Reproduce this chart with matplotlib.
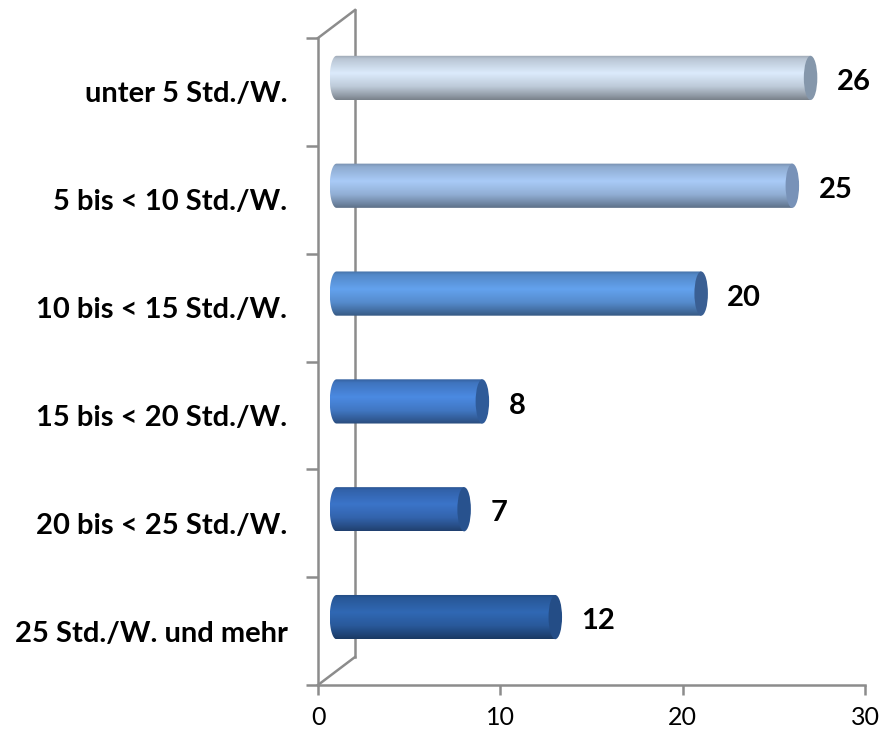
import numpy as np
import matplotlib as mpl
mpl.use('Agg')
import matplotlib.pyplot as plt
from matplotlib.patches import Ellipse, PathPatch
from matplotlib.path import Path
from matplotlib.transforms import ScaledTranslation
from matplotlib.colors import to_rgb

categories = ['unter 5 Std./W.', '5 bis < 10 Std./W.', '10 bis < 15 Std./W.',
              '15 bis < 20 Std./W.', '20 bis < 25 Std./W.', '25 Std./W. und mehr']
values = [26, 25, 20, 8, 7, 12]
xticks = [0, 10, 20, 30]

# bar body highlight colours and end-cap colours, top to bottom
body_colors = ['#dcebfc', '#a9cbf7', '#63a2ee', '#4b8ae2', '#3b74c9', '#3068b4']
cap_colors = ['#8597ab', '#7892b8', '#3a5f93', '#2f5b99', '#28528e', '#244d86']

plt.rcParams['font.family'] = ['Lato', 'DejaVu Sans']
GRAY = '#8c8c8c'

fig = plt.figure(figsize=(8.81, 7.35), dpi=100)
ax = fig.add_axes([318 / 881, 50 / 735, 547 / 881, 647 / 735])
ax.set_xlim(0, 30)
ax.set_ylim(len(categories), 0)

for side in ['top', 'right']:
    ax.spines[side].set_visible(False)
for side in ['left', 'bottom']:
    ax.spines[side].set_color(GRAY)
    ax.spines[side].set_linewidth(1.8)

ax.set_xticks(xticks)
ax.set_xticklabels([str(t) for t in xticks], fontsize=18)
ax.tick_params(axis='x', length=7, width=1.8, color=GRAY, pad=8)
ax.set_yticks(range(len(categories) + 1))
ax.set_yticklabels([])
ax.tick_params(axis='y', which='major', length=9, width=1.8, color=GRAY)
centers = np.arange(len(categories)) + 0.5
ax.set_yticks(centers, minor=True)
ax.set_yticklabels(categories, minor=True, fontsize=21, fontweight='bold')
ax.tick_params(axis='y', which='minor', length=0, pad=22)

# 3D depth: back wall and bars at half depth
back = ax.transData + ScaledTranslation(0.37, 0.28, fig.dpi_scale_trans)
mid = ax.transData + ScaledTranslation(0.185, 0.14, fig.dpi_scale_trans)

n = len(categories)
ax.plot([0, 0], [0, n], color=GRAY, lw=1.8, transform=back, clip_on=False, zorder=1)
for yy in [0, n]:
    p0 = ax.transData.transform((0, yy))
    p1 = back.transform((0, yy))
    ax.plot([p0[0], p1[0]], [p0[1], p1[1]], color=GRAY, lw=1.8,
            transform=None, clip_on=False, zorder=1)

hh = 0.205   # half bar thickness (category units)
ew = 0.37    # half width of the end ellipse (value units)

prof_t = [0.0, 0.08, 0.4, 0.7, 0.9, 1.0]
prof_f = [0.70, 0.84, 1.0, 0.86, 0.66, 0.55]
tt = np.linspace(0, 1, 120)
fac = np.interp(tt, prof_t, prof_f)

for i, v in enumerate(values):
    c = centers[i]
    base = np.array(to_rgb(body_colors[i]))
    grad = np.clip(fac[:, None] * base[None, :], 0, 1)
    img = np.repeat(grad[:, None, :], 2, axis=1)

    # body outline: rounded left end, straight top and bottom
    th = np.linspace(np.pi / 2, 3 * np.pi / 2, 40)
    left = np.column_stack([ew * np.cos(th), c - hh * np.sin(th)])
    verts = np.vstack([[[v, c - hh]], left, [[v, c + hh]], [[v, c - hh]]])
    codes = [Path.MOVETO] + [Path.LINETO] * (len(verts) - 2) + [Path.CLOSEPOLY]
    body = PathPatch(Path(verts, codes), facecolor='none', edgecolor='none',
                     transform=mid)
    ax.add_patch(body)
    im = ax.imshow(img, extent=[-ew, v + ew, c + hh, c - hh], aspect='auto',
                   interpolation='bilinear', transform=mid, zorder=2)
    im.set_clip_path(body)

    cap = Ellipse((v, c), 2 * ew, 2 * hh, facecolor=cap_colors[i],
                  edgecolor='none', transform=mid, zorder=3, clip_on=False)
    ax.add_patch(cap)

    ax.annotate(str(v), xy=(v + ew, c), xycoords=mid, xytext=(14, -3),
                textcoords='offset points', ha='left', va='center',
                fontsize=21, fontweight='bold', zorder=4)

ax.set_xlim(0, 30)
ax.set_ylim(n, 0)

fig.savefig('out.png', dpi=100)
